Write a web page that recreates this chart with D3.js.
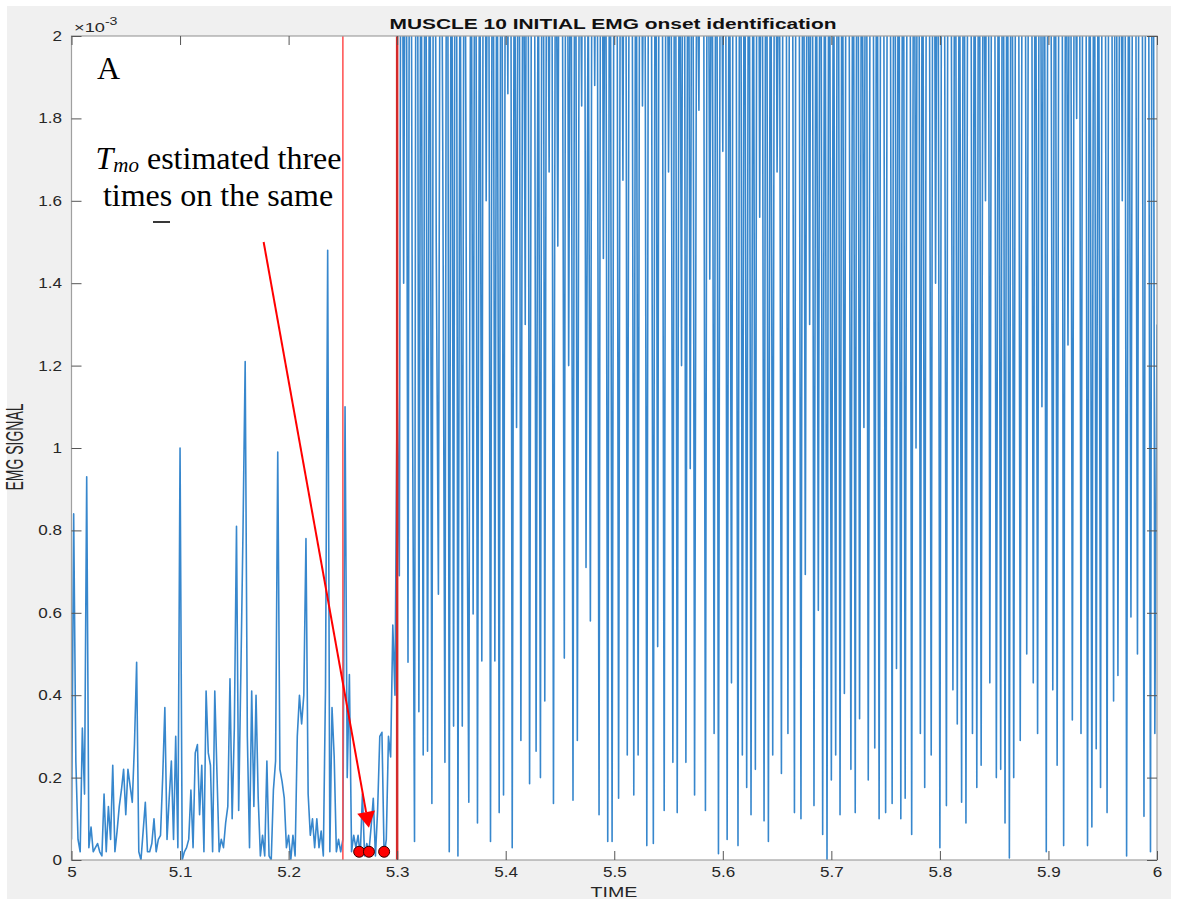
<!DOCTYPE html>
<html>
<head>
<meta charset="utf-8">
<script src="https://cdn.jsdelivr.net/npm/d3@7"></script>
<style>
body{margin:0;background:#fff;}
text{font-family:"Liberation Sans",Arial,sans-serif;}
.serif{font-family:"Liberation Serif","Times New Roman",serif;}
</style>
</head>
<body>
<svg id="fig" width="1180" height="901"></svg>
<script>
// EMG signal, values in units of 1e-3, sampled at 500 Hz from t = 5.000 s
let fs=500;
let tStart=5.0;
// 5.000 .. 5.298 s (quiet part before onset)
let emgQuiet=[0.05,0.84,0.24,0.05,0.02,0.32,0.16,0.93,0.03,0.08,
0.02,0.03,0.04,0.02,0.01,0.16,0.02,0.13,0.05,0.23,
0.02,0.07,0.13,0.17,0.22,0.11,0.22,0.18,0.14,0.28,
0.48,0.02,0.00,0.07,0.14,0.02,0.02,0.04,0.10,0.02,
0.05,0.06,0.20,0.37,0.05,0.15,0.24,0.05,0.30,0.03,
1.00,0.00,0.02,0.03,0.05,0.17,0.03,0.26,0.28,0.11,
0.23,0.02,0.41,0.26,0.23,0.02,0.41,0.21,0.02,0.05,
0.03,0.09,0.13,0.44,0.10,0.32,0.81,0.12,0.45,0.80,
1.21,0.30,0.03,0.41,0.13,0.40,0.15,0.01,0.06,0.01,
0.24,0.01,0.00,0.17,0.24,0.99,0.22,0.19,0.15,0.03,
0.06,0.00,0.06,0.01,0.30,0.40,0.33,0.40,0.78,0.16,
0.06,0.10,0.03,0.10,0.03,0.07,0.01,0.42,1.48,0.02,
0.37,0.25,0.02,0.05,0.02,0.05,1.10,0.20,0.45,0.02,
0.06,0.03,0.06,0.01,0.16,0.01,0.04,0.02,0.08,0.15,
0.01,0.12,0.30,0.31,0.01,0.05,0.30,0.25,0.57,0.40];
// 5.300 .. 6.000 s (burst, many peaks beyond the axis limit)
let emgBurst=[1.15,0.69,3.2,1.40,2.9,0.48,3.4,1.2,0.045,3.8,
0.36,2.6,0.255,3.1,0.264,2.7,0.137,3.5,1.5,0.645,
2.9,1.74,0.237,3.3,0.02,2.8,0.325,3.6,0.01,2.4,
0.325,3.0,1.1,0.14,2.7,0.597,3.2,0.09,2.5,0.483,
3.4,1.6,2.9,0.045,3.1,0.483,2.6,0.115,3.3,0.158,
2.8,1.86,3.7,0.03,2.5,1.05,3.0,0.29,2.7,1.3,
3.4,0.185,2.6,3.1,0.264,2.4,0.20,3.5,0.386,2.8,
1.67,3.2,0.137,2.6,1.49,3.0,2.4,0.49,3.6,1.2,
2.7,0.145,3.1,0.29,2.5,1.83,3.3,0.71,2.2,0.58,
3.0,1.88,2.8,0.11,3.4,1.46,2.6,0.045,3.0,0.045,
2.7,3.2,0.15,2.9,1.65,3.5,0.255,2.6,3.0,0.158,
2.8,0.255,3.3,1.83,2.7,0.035,3.1,2.5,0.04,2.9,
0.518,3.4,2.6,0.12,3.0,1.67,2.7,0.237,3.2,0.115,
2.6,1.2,3.5,0.237,2.8,0.95,3.1,0.158,2.4,1.82,
3.3,2.7,0.12,3.0,1.41,2.6,0.307,3.2,0.015,2.9,
1.72,3.4,0.05,2.7,0.43,3.1,2.5,0.035,3.3,0.255,
2.8,0.176,3.0,0.11,2.6,0.22,3.4,1.56,2.9,0.095,
3.2,0.045,2.7,0.255,3.0,1.67,2.5,0.21,3.3,2.8,
0.307,3.1,2.6,0.115,3.5,2.7,0.10,3.0,0.693,2.8,
1.3,3.2,0.132,2.6,0.606,3.1,0.062,2.7,0.0,3.0,
0.194,2.5,0.255,3.3,0.11,2.8,0.404,3.1,2.6,0.22,
2.9,0.115,3.4,0.343,2.7,1.05,3.0,0.194,2.6,3.2,
0.272,2.9,0.10,3.3,2.5,0.115,3.0,2.7,0.137,3.4,
0.465,2.8,0.10,3.1,0.15,2.6,3.2,0.062,2.9,1.0,
3.5,0.307,2.7,0.176,3.0,2.6,0.255,3.3,1.4,2.8,
0.03,3.1,2.5,0.132,3.4,2.7,0.413,3.0,0.33,2.6,
0.14,3.2,0.09,2.9,3.3,0.307,2.7,0.176,3.1,0.23,
2.6,1.6,3.4,0.43,2.8,3.0,0.20,2.6,0.22,3.2,
0.09,2.9,0.005,3.5,0.20,2.7,3.0,0.29,2.6,3.3,
0.50,2.8,3.1,0.43,2.7,0.307,3.2,1.1,2.9,0.02,
3.4,2.6,0.413,3.0,0.23,2.8,3.3,0.035,2.7,1.25,
3.1,0.34,2.6,1.8,3.4,0.307,2.9,3.2,0.035,2.7,
0.08,3.0,0.27,2.6,0.176,3.3,2.8,0.115,3.1,2.7,
0.386,3.4,0.448,2.9,1.6,3.2,0.01,2.6,0.59,3.0,
2.7,0.50,3.3,2.8,0.106,3.1,2.6,0.02,3.4,0.307,
1.3];
let xTicks=[5,5.1,5.2,5.3,5.4,5.5,5.6,5.7,5.8,5.9,6];
let xTickLabels=["5","5.1","5.2","5.3","5.4","5.5","5.6","5.7","5.8","5.9","6"];
let yTicks=[0,0.2,0.4,0.6,0.8,1,1.2,1.4,1.6,1.8,2];
let yTickLabels=["0","0.2","0.4","0.6","0.8","1","1.2","1.4","1.6","1.8","2"];
let markerTimes=[5.25,5.30];          // red vertical lines
let onsetTimes=[5.265,5.274,5.288];   // Tmo estimates
let onsetLevel=0.02;
let arrowFrom=[5.177,1.50], arrowTo=[5.274,0.078];

let svg=d3.select("#fig");
let pL=71.5, pR=1157, pT=36, pB=860;
let xScale=d3.scaleLinear().domain([5,6]).range([pL,pR]);
let yScale=d3.scaleLinear().domain([0,2]).range([pB,pT]);
let sx=1.22; // the figure text is stretched horizontally

svg.append("rect").attr("x",7).attr("y",6).attr("width",1164).attr("height",893).attr("fill","#f0f0f0");
svg.append("rect").attr("x",pL).attr("y",pT).attr("width",pR-pL).attr("height",pB-pT).attr("fill","#fff");
svg.append("clipPath").attr("id","plotclip").append("rect")
  .attr("x",pL).attr("y",pT).attr("width",pR-pL).attr("height",pB-pT);

let signal=emgQuiet.concat(emgBurst).map((v,i)=>({t:tStart+i/fs,v:v}));
let line=d3.line().x(d=>xScale(d.t)).y(d=>yScale(d.v));
svg.append("path").datum(signal).attr("d",line).attr("clip-path","url(#plotclip)")
  .attr("fill","none").attr("stroke","#3787cd").attr("stroke-width",1.6).attr("stroke-linejoin","round");

svg.selectAll("line.marker").data(markerTimes).enter().append("line").attr("class","marker")
  .attr("x1",d=>xScale(d)).attr("x2",d=>xScale(d)).attr("y1",pT).attr("y2",pB)
  .attr("stroke",(d,i)=>i==0?"#ff4d4d":"#d42a2a").attr("stroke-width",(d,i)=>i==0?1.5:2.5);

svg.selectAll("circle.onset").data(onsetTimes).enter().append("circle").attr("class","onset")
  .attr("cx",d=>xScale(d)).attr("cy",yScale(onsetLevel)).attr("r",5.5)
  .attr("fill","#ff0000").attr("stroke","#3a0000").attr("stroke-width",1);

// arrow
let ax1=xScale(arrowFrom[0]), ay1=yScale(arrowFrom[1]), ax2=xScale(arrowTo[0]), ay2=yScale(arrowTo[1]);
let len=Math.hypot(ax2-ax1,ay2-ay1), ux=(ax2-ax1)/len, uy=(ay2-ay1)/len;
let hb=16, hw=9;
svg.append("line").attr("x1",ax1).attr("y1",ay1).attr("x2",ax2-ux*hb).attr("y2",ay2-uy*hb)
  .attr("stroke","#ff0000").attr("stroke-width",2);
svg.append("polygon").attr("fill","#ff0000").attr("points",[
  [ax2,ay2],[ax2-ux*hb+uy*hw,ay2-uy*hb-ux*hw],[ax2-ux*hb-uy*hw,ay2-uy*hb+ux*hw]].map(p=>p.join(",")).join(" "));

// box and ticks
svg.append("rect").attr("x",pL).attr("y",pT).attr("width",pR-pL).attr("height",pB-pT)
  .attr("fill","none").attr("stroke","#a0a0a0").attr("stroke-width",1.2);

let xb=svg.append("g").attr("transform","translate(0,"+pB+")")
  .call(d3.axisBottom(xScale).tickValues(xTicks).tickFormat((d,i)=>xTickLabels[i]).tickSizeInner(-9).tickSizeOuter(0).tickPadding(7));
let xt=svg.append("g").attr("transform","translate(0,"+pT+")")
  .call(d3.axisTop(xScale).tickValues(xTicks).tickFormat("").tickSizeInner(-9).tickSizeOuter(0));
let yl=svg.append("g").attr("transform","translate("+pL+",0)")
  .call(d3.axisLeft(yScale).tickValues(yTicks).tickFormat((d,i)=>yTickLabels[i]).tickSizeInner(-10).tickSizeOuter(0).tickPadding(9));
let yr=svg.append("g").attr("transform","translate("+pR+",0)")
  .call(d3.axisRight(yScale).tickValues(yTicks).tickFormat("").tickSizeInner(-10).tickSizeOuter(0));
[xb,xt,yl,yr].forEach(g=>{
  g.select(".domain").remove();
  g.selectAll(".tick line").attr("stroke","#555");
  g.selectAll(".tick text").attr("font-size",14).attr("fill","#262626")
    .attr("font-family","Liberation Sans, Arial, sans-serif");
});
xb.selectAll(".tick text").attr("transform","scale("+sx+",1)");
yl.selectAll(".tick text").attr("x",-9.5/sx).attr("transform","scale("+sx+",1)");

function mtext(x,y,s,opts){
  let t=svg.append("text").attr("transform","translate("+x+","+y+") scale("+(opts.sx||sx)+",1)"+(opts.rot?" rotate(-90)":""))
    .attr("font-size",opts.size||14).attr("fill",opts.fill||"#262626")
    .attr("text-anchor",opts.anchor||"start").text(s);
  if(opts.bold) t.attr("font-weight","bold");
  return t;
}
svg.append("text").attr("x",613).attr("y",29).attr("text-anchor","middle")
  .attr("font-size",14).attr("font-weight","bold").attr("fill","#111")
  .attr("textLength",447).attr("lengthAdjust","spacingAndGlyphs")
  .text("MUSCLE 10 INITIAL EMG onset identification");
let ex=mtext(74,32,"\u00d710",{size:13.5,sx:1.35});
ex.append("tspan").attr("dy",-7).attr("font-size",10.5).text("-3");
mtext(614,897,"TIME",{anchor:"middle",sx:1.4});
mtext(23,447,"EMG SIGNAL",{anchor:"middle",rot:true,sx:1.65});

// annotations
svg.append("text").attr("class","serif").attr("x",97).attr("y",79).attr("font-size",32).attr("fill","#000").text("A");
let a1=svg.append("text").attr("class","serif").attr("x",218.5).attr("y",169).attr("text-anchor","middle")
  .attr("font-size",32).attr("fill","#000");
a1.append("tspan").attr("font-style","italic").text("T");
a1.append("tspan").attr("font-style","italic").attr("font-size",21).attr("dy",3).text("mo");
a1.append("tspan").attr("dy",-3).text(" estimated three");
svg.append("text").attr("class","serif").attr("x",218).attr("y",206).attr("text-anchor","middle")
  .attr("font-size",32).attr("fill","#000").text("times on the same");
svg.append("line").attr("x1",153).attr("x2",170).attr("y1",222).attr("y2",222).attr("stroke","#222").attr("stroke-width",1.8);
</script>
</body>
</html>
